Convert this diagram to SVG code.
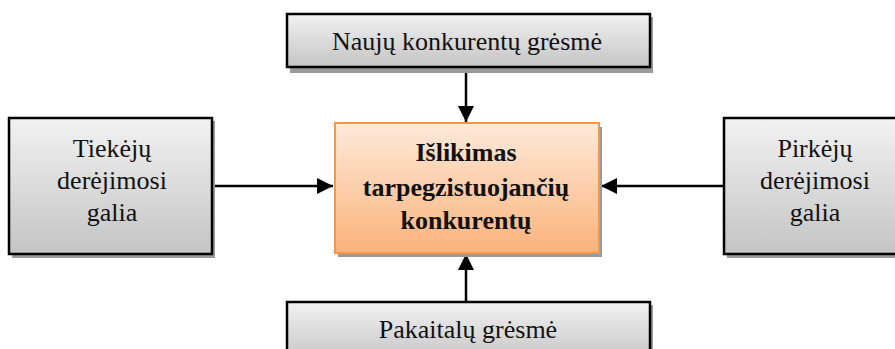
<svg xmlns="http://www.w3.org/2000/svg" width="895" height="349" viewBox="0 0 895 349">
  <style>
    .box { stroke: #000; stroke-width: 2.5; fill: url(#grey); }
    .core { stroke: #f79646; stroke-width: 2; fill: url(#peach); }
    .shadow { fill: #9a9a9a; }
    .label { font-family: "Liberation Serif", "Times New Roman", serif; font-size: 26px; fill: #111; text-anchor: middle; }
    .bold { font-weight: bold; }
    .link { stroke: #000; stroke-width: 2.5; fill: none; marker-end: url(#head); }
  </style>
  <defs>
    <linearGradient id="grey" x1="0" y1="0" x2="0" y2="1">
      <stop offset="0" stop-color="#f2f2f2"/>
      <stop offset="1" stop-color="#c4c4c4"/>
    </linearGradient>
    <linearGradient id="peach" x1="0" y1="0" x2="0" y2="1">
      <stop offset="0" stop-color="#fdeadb"/>
      <stop offset="1" stop-color="#fab27a"/>
    </linearGradient>
    <marker id="head" viewBox="0 0 16 16" refX="16" refY="8" markerWidth="16" markerHeight="16" markerUnits="userSpaceOnUse" orient="auto">
      <path d="M0,0 L16,8 L0,16 Z" fill="#000"/>
    </marker>
  </defs>

  <g id="connectors">
    <line class="link" x1="466" y1="67" x2="466" y2="122"/>
    <line class="link" x1="212" y1="186" x2="333" y2="186"/>
    <line class="link" x1="724" y1="186" x2="601" y2="186"/>
    <line class="link" x1="466" y1="302" x2="466" y2="254"/>
  </g>

  <g id="new-entrants">
    <rect class="shadow" x="290" y="17" width="363" height="56"/>
    <rect class="box" x="287" y="14" width="363" height="53"/>
    <text class="label" x="467" y="50">Naujų konkurentų grėsmė</text>
  </g>

  <g id="suppliers">
    <rect class="shadow" x="12" y="121" width="203" height="137"/>
    <rect class="box" x="9" y="118" width="203" height="136"/>
    <text class="label" x="112" y="157">Tiekėjų</text>
    <text class="label" x="112" y="189">derėjimosi</text>
    <text class="label" x="112" y="221">galia</text>
  </g>

  <g id="rivalry">
    <rect class="shadow" x="338" y="127" width="264" height="130"/>
    <rect class="core" x="335" y="123" width="264" height="130"/>
    <text class="label bold" x="466" y="161">Išlikimas</text>
    <text class="label bold" x="466" y="196">tarpegzistuojančių</text>
    <text class="label bold" x="466" y="229">konkurentų</text>
  </g>

  <g id="buyers">
    <rect class="shadow" x="727" y="121" width="190" height="137"/>
    <rect class="box" x="724" y="118" width="190" height="136"/>
    <text class="label" x="815" y="157">Pirkėjų</text>
    <text class="label" x="815" y="189">derėjimosi</text>
    <text class="label" x="815" y="221">galia</text>
  </g>

  <g id="substitutes">
    <rect class="shadow" x="290" y="305" width="363" height="60"/>
    <rect class="box" x="287" y="302" width="363" height="60"/>
    <text class="label" x="468" y="338">Pakaitalų grėsmė</text>
  </g>
</svg>
